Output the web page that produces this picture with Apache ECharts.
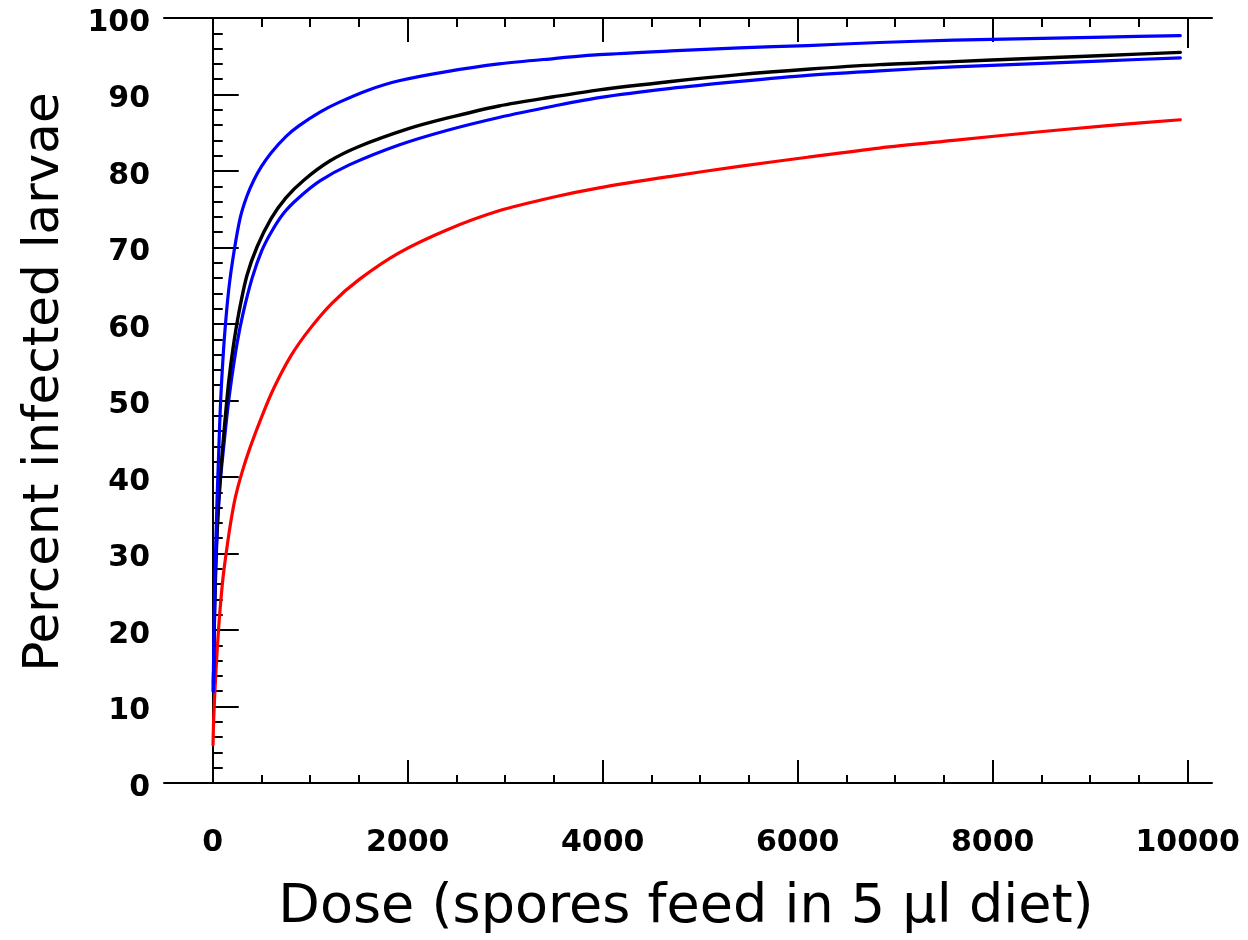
<!DOCTYPE html>
<html>
<head>
<meta charset="utf-8">
<script src="https://cdn.jsdelivr.net/npm/echarts@6/dist/echarts.min.js"></script>
<style>
html,body{margin:0;padding:0;background:#fff;}
#chart{width:1248px;height:940px;}
</style>
</head>
<body>
<div id="chart"></div>
<script>
// ---- data ----
const xMajorTicks = [0, 2000, 4000, 6000, 8000, 10000];
const xMinorTicks = [500, 1000, 1500, 2500, 3000, 3500, 4500, 5000, 5500, 6500, 7000, 7500, 8500, 9000, 9500];
const xTitle = 'Dose (spores feed in 5 µl diet)';
const yTitle = 'Percent infected larvae';

const blueHigh = [[5,12],[10,17.5],[20,25],[30,30.5],[44,37],[60,42.8],[75,48.2],[92,52.7],[120,58.3],[164,64.5],[220,69.6],[284,74.0],[350,76.7],[421,78.8],[500,80.6],[600,82.4],[750,84.5],[883,85.9],[1100,87.7],[1300,89.0],[1600,90.6],[1910,91.8],[2400,93.0],[2936,94.0],[3500,94.7],[3963,95.2],[4700,95.7],[5400,96.1],[6100,96.4],[6838,96.8],[7600,97.1],[8378,97.3],[9150,97.5],[9925,97.7]];
const blackCurve = [[8,13],[15,20],[25,26.5],[40,32],[62,37.4],[80,40.5],[106,44.5],[130,48],[164,52.5],[210,57],[267,61.4],[350,66.3],[455,70.1],[600,73.8],[750,76.5],[934,78.8],[1200,81.3],[1500,83.2],[2000,85.5],[2400,86.9],[2936,88.5],[3500,89.7],[3963,90.6],[4700,91.7],[5400,92.6],[6100,93.3],[6838,93.9],[7600,94.3],[8378,94.7],[9150,95.1],[9925,95.5]];
const blueLow = [[5,12],[15,19.5],[25,25],[40,31],[60,36],[85,40.5],[113,44.0],[150,48.5],[192,52.7],[250,57.5],[311,61.4],[404,66.0],[500,69.5],[600,72.0],[729,74.5],[883,76.5],[1100,78.7],[1400,80.8],[1910,83.4],[2400,85.3],[2936,87.0],[3500,88.5],[3963,89.6],[4700,90.8],[5400,91.7],[6100,92.5],[6838,93.1],[7600,93.6],[8378,94.0],[9150,94.4],[9925,94.8]];
const redCurve = [[3,5],[10,8.5],[28,13.5],[50,18.3],[72,22.2],[105,26.8],[147,30.9],[190,34.5],[233,37.4],[300,40.6],[387,44.0],[506,48.0],[626,51.6],[800,55.8],[986,59.2],[1222,62.7],[1500,65.8],[1910,69.3],[2400,72.3],[2936,74.8],[3500,76.6],[3963,77.8],[4700,79.3],[5400,80.6],[6100,81.8],[6838,83.0],[7600,84.0],[8378,85.0],[9150,85.9],[9925,86.7]];

const chart = echarts.init(document.getElementById('chart'), null, {renderer:'canvas'});
const lab = {fontFamily:'DejaVu Sans', fontWeight:'bold', fontSize:30, color:'#000'};
const lineS = {color:'#000', width:2};
const xBase = {type:'value', min:-500, max:10250, gridIndex:0, splitLine:{show:false}};
function lineSeries(data, color, w){
  return {type:'line', data:data, xAxisIndex:0, yAxisIndex:0, showSymbol:false, symbol:'none',
    smooth:0.3, lineStyle:{color:color, width:w, cap:'round', join:'round'}, itemStyle:{color:color}, animation:false, z:3};
}
chart.setOption({
  backgroundColor:'#fff',
  animation:false,
  grid:{left:164, right:36, top:18, bottom:157, containLabel:false},
  xAxis:[
    Object.assign({}, xBase, {position:'bottom', axisLine:{show:true, lineStyle:lineS},
      axisTick:{show:true, inside:true, length:23, lineStyle:lineS, customValues:xMajorTicks},
      axisLabel:Object.assign({show:true, margin:45, customValues:xMajorTicks, formatter:function(v){return String(v);}}, lab)}),
    Object.assign({}, xBase, {position:'bottom', axisLine:{show:false},
      axisTick:{show:true, inside:true, length:8, lineStyle:lineS, customValues:xMinorTicks},
      axisLabel:{show:false}}),
    Object.assign({}, xBase, {position:'top', axisLine:{show:true, lineStyle:lineS},
      axisTick:{show:true, inside:true, length:24, lineStyle:lineS, customValues:xMajorTicks.slice(0,5)},
      axisLabel:{show:false}}),
    Object.assign({}, xBase, {position:'top', axisLine:{show:false},
      axisTick:{show:true, inside:true, length:9, lineStyle:lineS, customValues:xMinorTicks},
      axisLabel:{show:false}}),
    Object.assign({}, xBase, {position:'top', axisLine:{show:false},
      axisTick:{show:true, inside:true, length:30, lineStyle:lineS, customValues:xMajorTicks.slice(5)},
      axisLabel:{show:false}})
  ],
  yAxis:[
    {type:'value', min:0, max:100, interval:10, position:'left', splitLine:{show:false},
      axisLine:{show:true, lineStyle:lineS},
      axisTick:{show:true, inside:true, length:26, lineStyle:lineS},
      minorTick:{show:true, splitNumber:5, length:10, lineStyle:lineS},
      axisLabel:{margin:14, formatter:function(v){return '{a|' + v + '}';},
        rich:{a:{fontFamily:'DejaVu Sans', fontWeight:'bold', fontSize:30, color:'#000', lineHeight:40, verticalAlign:'bottom'}}}},
    {type:'value', min:0, max:100, position:'right', splitLine:{show:false},
      axisLine:{show:true, lineStyle:lineS}, axisTick:{show:false}, axisLabel:{show:false}}
  ],
  graphic:[
    {type:'text', x:45, y:382, rotation:Math.PI/2,
      style:{text:yTitle, fontFamily:'DejaVu Sans', fontSize:50, fill:'#000', align:'center', verticalAlign:'middle'}},
    {type:'text', x:686, y:908,
      style:{text:xTitle, fontFamily:'DejaVu Sans', fontSize:54, fill:'#000', align:'center', verticalAlign:'middle'}}
  ],
  series:[
    lineSeries(redCurve, '#ff0000', 3.2),
    lineSeries(blueLow, '#0000ff', 3.2),
    lineSeries(blackCurve, '#000000', 3.4),
    lineSeries(blueHigh, '#0000ff', 3.2)
  ]
});
</script>
</body>
</html>
